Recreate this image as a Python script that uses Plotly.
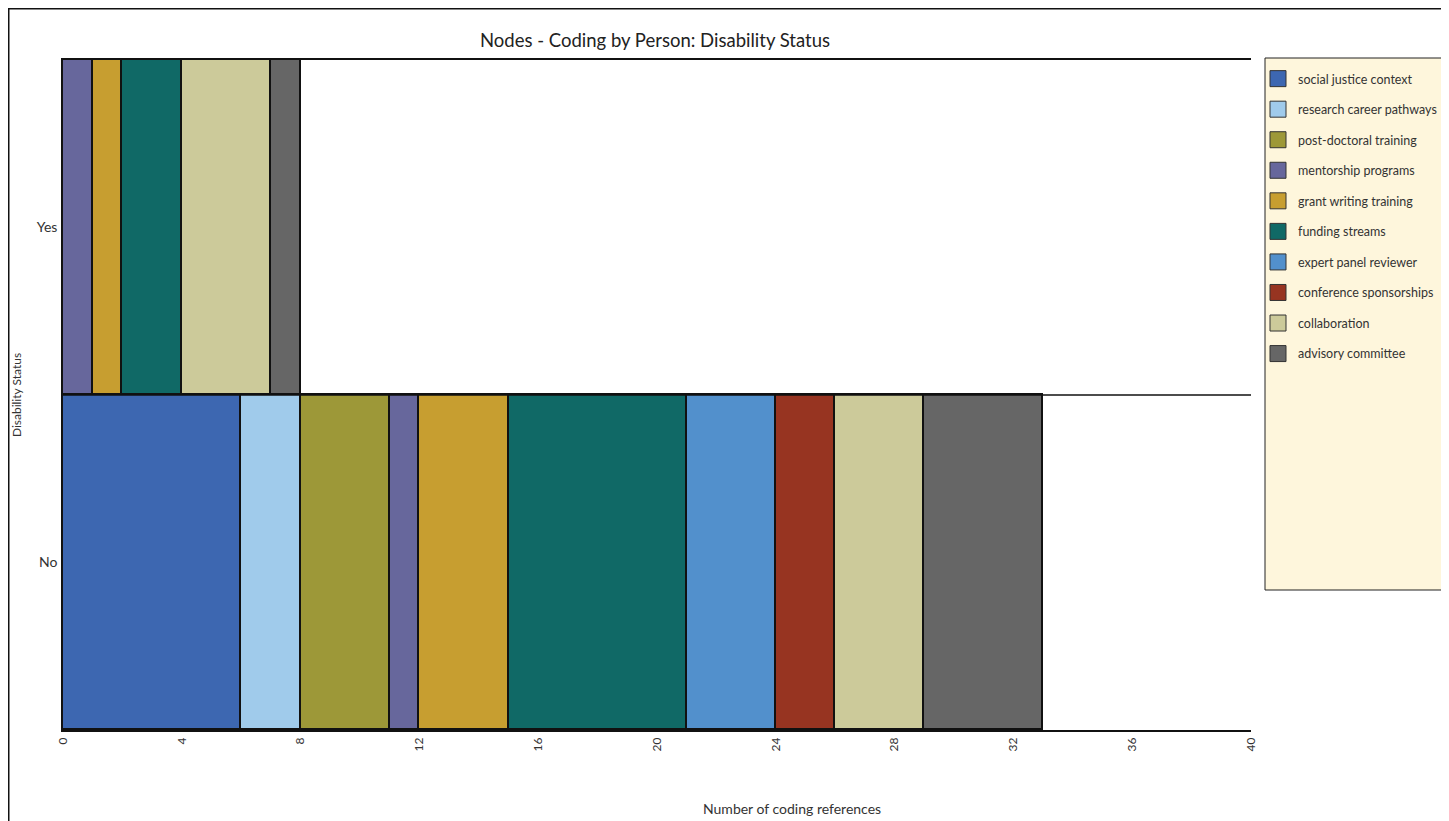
import plotly.graph_objects as go

categories = ["No", "Yes"]
nodes = ["social justice context", "research career pathways", "post-doctoral training",
         "mentorship programs", "grant writing training", "funding streams",
         "expert panel reviewer", "conference sponsorships", "collaboration", "advisory committee"]
values_no = [6, 2, 3, 1, 3, 6, 3, 2, 3, 4]
values_yes = [0, 0, 0, 1, 1, 2, 0, 0, 3, 1]
colors = ["#3D67B1", "#A0CBEB", "#9D9838", "#67679C", "#C79E30",
          "#106966", "#5290CC", "#973421", "#CCCA9A", "#666666"]
x_ticks = [0, 4, 8, 12, 16, 20, 24, 28, 32, 36, 40]

FONT = "Lato, 'Open Sans', sans-serif"
OFF = 8  # page body margin
W, H = 1449, 813
L, R, T, B = 55, 1243, 52, 722  # plot area in figure pixels


def px(sx):  # screen x -> paper x
    return (sx - OFF - L) / (R - L)


def py(sy):  # screen y -> paper y
    return (B - (sy - OFF)) / (B - T)


fig = go.Figure()
for i, name in enumerate(nodes):
    fig.add_trace(go.Bar(
        y=categories, x=[values_no[i], values_yes[i]], name=name, orientation="h",
        marker=dict(color=colors[i], line=dict(color="#111111", width=1.6)),
        legendgroup=name, showlegend=False,
    ))
# legend entries (square swatches)
for i, name in enumerate(nodes):
    fig.add_trace(go.Scatter(
        x=[None], y=[None], mode="markers", name=name, legendgroup=name,
        marker=dict(symbol="square", size=16, color=colors[i], line=dict(color="#333333", width=1)),
        showlegend=True, hoverinfo="skip",
    ))

fig.update_layout(
    width=W, height=H,
    margin=dict(l=L, r=W - R, t=T, b=H - B, autoexpand=False),
    barmode="stack", bargap=0,
    paper_bgcolor="white", plot_bgcolor="white",
    font=dict(family=FONT, size=12, color="#333333"),
    title=dict(text="Nodes - Coding by Person: Disability Status", x=px(655), xanchor="center",
               xref="paper", y=1 - (41 - OFF) / H, yanchor="middle",
               font=dict(size=18.5, color="#222222")),
    xaxis=dict(range=[0, 40], tickvals=x_ticks, ticktext=[str(v) for v in x_ticks],
               tickangle=-90, showgrid=False, zeroline=False, showline=True, mirror=True,
               linecolor="#111111", linewidth=1.6, ticks="", ticklabelstandoff=1,
               automargin=False, tickfont=dict(size=12, color="#333333")),
    yaxis=dict(categoryorder="array", categoryarray=categories, range=[-0.5, 1.5],
               showgrid=False, zeroline=False, showline=True, linecolor="#111111", linewidth=1.6,
               ticks="", ticklabelstandoff=1, automargin=False,
               tickfont=dict(size=14, color="#333333"),
               title=dict(text="Disability Status", standoff=13, font=dict(size=12, color="#333333"))),
    legend=dict(x=px(1258), xanchor="left", y=py(64), yanchor="top",
                bgcolor="rgba(0,0,0,0)", traceorder="grouped", tracegroupgap=11.3,
                itemsizing="trace", font=dict(size=12.5, color="#333333"), itemclick=False),
    showlegend=True,
)

fig.add_annotation(text="Number of coding references", xref="paper", yref="paper",
                   x=px(792), y=py(808), xanchor="center", yanchor="middle", showarrow=False,
                   font=dict(size=14, color="#333333"))

shapes = [
    # outer frame
    dict(type="rect", xref="paper", yref="paper", x0=px(OFF + 0.75), x1=px(1445.5), y0=py(840),
         y1=py(OFF + 0.75), line=dict(color="#111111", width=1.5), fillcolor="rgba(0,0,0,0)",
         layer="below"),
    # legend box
    dict(type="rect", xref="paper", yref="paper", x0=px(1265), x1=px(1445.5), y0=py(590), y1=py(58),
         line=dict(color="#222222", width=1), fillcolor="#FEF6DC", layer="below"),
    # category separator line
    dict(type="line", xref="paper", yref="y", x0=0, x1=1, y0=0.5, y1=0.5,
         line=dict(color="#111111", width=1.6)),
]
fig.update_layout(shapes=shapes)

fig.write_html("out.html")
